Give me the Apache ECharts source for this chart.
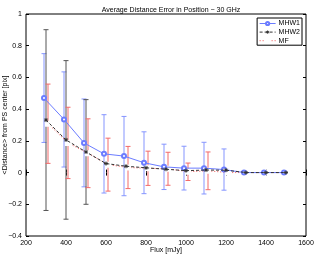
<!DOCTYPE html>
<html><head><meta charset="utf-8">
<script src="https://cdn.jsdelivr.net/npm/echarts@6/dist/echarts.min.js"></script>
<style>html,body{margin:0;padding:0;background:#fff}#c{width:316px;height:254px}</style>
</head><body><div id="c"></div>
<script>
var fluxMHW1 = [290,390,490,590,690,790,890,990,1090,1190,1290,1390,1490];
var mhw1     = [0.47,0.335,0.187,0.118,0.104,0.062,0.036,0.028,0.028,0.019,0,0,0];
var mhw1Err  = [0.28,0.30,0.277,0.247,0.25,0.195,0.143,0.138,0.163,0.13,0,0,0];
var fluxMHW2 = [300,400,500,600,700,800,900,1000,1100,1200,1300,1400,1500];
var mhw2     = [0.331,0.206,0.130,0.057,0.040,0.030,0.021,0.012,0.016,0.015,0,0,0];
var mhw2Err  = [0.57,0.50,0.33,0,0,0,0,0,0,0,0,0,0];
var fluxMF   = [310,410,510,610,710,810,910,1010,1110,1210,1310,1410,1510];
var mf       = [0.308,0.187,0.122,0.05,0.032,0.027,0.024,0.005,0.011,0,0,0,0];
var mfErr    = [0.25,0.225,0.217,0.167,0.133,0.108,0.104,0.055,0.119,0,0,0,0];
var xTicks = [200,400,600,800,1000,1200,1400,1600];
var yTicks = [-0.4,-0.2,0,0.2,0.4,0.6,0.8,1];

var FONT = 'Liberation Sans';
var cBlue = '#6b7cff', cBlack = '#333333', cRed = '#f05555';

function pairs(xs, ys){ return xs.map(function(x,i){return [x, ys[i]];}); }
function errData(xs, ys, es){
  var out=[]; xs.forEach(function(x,i){ if(es[i]>0) out.push([x, ys[i]-es[i], ys[i]+es[i]]); }); return out;
}
function errSeries(name, data, color){
  return {
    type:'custom', name:name+'_err', data:data, z:1, silent:true,
    encode:{x:0,y:[1,2]},
    renderItem:function(params, api){
      var x=api.value(0), lo=api.coord([x, api.value(1)]), hi=api.coord([x, api.value(2)]);
      var w=2.5, st={stroke:color, lineWidth:1};
      return {type:'group', children:[
        {type:'line', shape:{x1:lo[0],y1:lo[1],x2:hi[0],y2:hi[1]}, style:st},
        {type:'line', shape:{x1:lo[0]-w,y1:lo[1],x2:lo[0]+w,y2:lo[1]}, style:st},
        {type:'line', shape:{x1:hi[0]-w,y1:hi[1],x2:hi[0]+w,y2:hi[1]}, style:st}
      ]};
    }
  };
}
var starPath = 'path://M5,0L5,10M0,5L10,5M1.5,1.5L8.5,8.5M8.5,1.5L1.5,8.5';

var chart = echarts.init(document.getElementById('c'), null, {renderer:'canvas'});
var axisLbl = {fontFamily:FONT, fontSize:7, color:'#000'};
function xFmt(v){ return String(v); }
function yFmt(v){ var s=String(Math.round(v*10)/10); return s.replace('-','\u2212'); }
chart.setOption({
  animation:false,
  title:{text:'Average Distance Error in Position \u2212 30 GHz', left:166, textAlign:'center', top:2,
    textStyle:{fontFamily:FONT, fontSize:7, fontWeight:'normal', color:'#000'}},
  grid:{left:26, right:10, top:14, bottom:18, containLabel:false, outerBoundsMode:'none',
    show:true, borderColor:'#000', borderWidth:1, backgroundColor:'#fff'},
  legend:{right:14, top:18, orient:'vertical', itemWidth:16, itemHeight:4, itemGap:1,
    padding:[2,2,1,2], borderColor:'#000', borderWidth:1, backgroundColor:'#fff',
    lineStyle:{width:1}, itemStyle:{borderWidth:1},
    textStyle:{fontFamily:FONT, fontSize:7, color:'#000', lineHeight:7, padding:[0,0,0,-2]},
    data:['MHW1','MHW2','MF']},
  xAxis:[
    {type:'value', min:200, max:1600, interval:200, position:'bottom',
     axisLine:{show:false}, splitLine:{show:false},
     axisTick:{inside:true, length:3, lineStyle:{color:'#000'}},
     axisLabel:Object.assign({margin:4, formatter:xFmt}, axisLbl),
     name:'Flux [mJy]', nameLocation:'middle', nameGap:11, nameMoveOverlap:false,
     nameTextStyle:{fontFamily:FONT, fontSize:7, color:'#000', lineHeight:7}},
    {type:'value', min:200, max:1600, interval:200, position:'top',
     axisLine:{show:false}, splitLine:{show:false},
     axisTick:{inside:true, length:3, lineStyle:{color:'#000'}}, axisLabel:{show:false}}
  ],
  yAxis:[
    {type:'value', min:-0.4, max:1, interval:0.2, position:'left',
     axisLine:{show:false}, splitLine:{show:false},
     axisTick:{inside:true, length:3, lineStyle:{color:'#000'}},
     axisLabel:Object.assign({margin:4, formatter:yFmt}, axisLbl),
     name:'<Distance> from PS center [pix]', nameLocation:'middle', nameGap:17, nameRotate:90, nameMoveOverlap:false,
     nameTextStyle:{fontFamily:FONT, fontSize:7, color:'#000'}},
    {type:'value', min:-0.4, max:1, interval:0.2, position:'right',
     axisLine:{show:false}, splitLine:{show:false},
     axisTick:{inside:true, length:3, lineStyle:{color:'#000'}}, axisLabel:{show:false}}
  ],
  series:[
    errSeries('MHW1', errData(fluxMHW1, mhw1, mhw1Err), '#8595ff'),
    errSeries('MHW2', errData(fluxMHW2, mhw2, mhw2Err), '#555555'),
    errSeries('MF', errData(fluxMF, mf, mfErr), '#f26a6a'),
    {type:'line', name:'MHW1', data:pairs(fluxMHW1, mhw1), z:3,
     lineStyle:{color:cBlue, width:1, type:'solid'}, itemStyle:{color:cBlue, borderColor:cBlue, borderWidth:1},
     symbol:'emptyCircle', symbolSize:4, showAllSymbol:true},
    {type:'line', name:'MHW2', data:pairs(fluxMHW2, mhw2), z:4,
     lineStyle:{color:cBlack, width:1, type:[3,2]}, itemStyle:{color:'none', borderColor:cBlack, borderWidth:1},
     symbol:starPath, symbolSize:4, showAllSymbol:true},
    {type:'line', name:'MF', data:pairs(fluxMF, mf), z:2,
     lineStyle:{color:cRed, width:1, type:[1,2]}, itemStyle:{color:'#fff', borderColor:cRed, borderWidth:1},
     symbol:'emptyRect', symbolSize:4, showAllSymbol:true}
  ]
});
</script></body></html>
